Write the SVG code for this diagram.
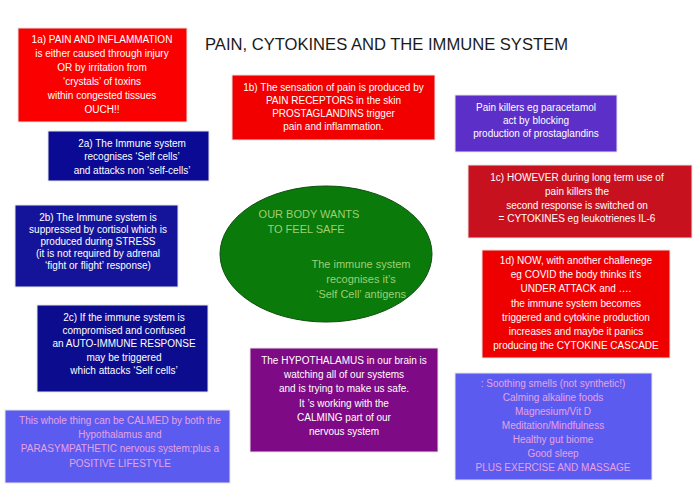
<svg xmlns="http://www.w3.org/2000/svg" width="700" height="495" viewBox="0 0 700 495">
<style>
text{font-family:"Liberation Sans",Arial,sans-serif;font-size:10px;text-anchor:middle;fill:#ffffff}
.title{font-size:17px;fill:#1a1a1a}
.box{stroke:#e6e6e6;stroke-width:1}
.green{fill:#9fcf72;font-size:11px}
.pink{fill:#e6a2e6}
</style>
<rect width="700" height="495" fill="#ffffff"/>
<text class="title" x="386.5" y="50" textLength="363" lengthAdjust="spacingAndGlyphs">PAIN, CYTOKINES AND THE IMMUNE SYSTEM</text>

<g id="n1a">
<rect class="box" x="18" y="28" width="169" height="94" fill="#fa0000"/>
<text x="102" y="43">1a) PAIN AND INFLAMMATION</text>
<text x="102" y="57">is either caused through injury</text>
<text x="102" y="71">OR by irritation from</text>
<text x="102" y="85">‘crystals’ of toxins</text>
<text x="102" y="99">within congested tissues</text>
<text x="102" y="113">OUCH!!</text>
</g>

<g id="n1b">
<rect class="box" x="232" y="75" width="203" height="65" fill="#f20000"/>
<text x="333.5" y="91">1b) The sensation of pain is produced by</text>
<text x="333.5" y="104">PAIN RECEPTORS in the skin</text>
<text x="333.5" y="117">PROSTAGLANDINS trigger</text>
<text x="333.5" y="130">pain and inflammation.</text>
</g>

<g id="npk">
<rect class="box" x="455" y="95" width="162" height="57" fill="#5c2fc9"/>
<text x="536" y="111">Pain killers eg paracetamol</text>
<text x="536" y="124">act by blocking</text>
<text x="536" y="137">production of prostaglandins</text>
</g>

<g id="n2a">
<rect class="box" x="48" y="131" width="161" height="50" fill="#0a0a94"/>
<text x="132" y="147">2a) The Immune system</text>
<text x="132" y="160">recognises ‘Self cells’</text>
<text x="132" y="174">and attacks non ‘self-cells’</text>
</g>

<g id="n2b">
<rect class="box" x="15" y="205" width="163" height="82" fill="#14149a"/>
<text x="98" y="221">2b) The Immune system is</text>
<text x="98" y="233">suppressed by cortisol which is</text>
<text x="98" y="245">produced during STRESS</text>
<text x="98" y="257">(it is not required by adrenal</text>
<text x="98" y="269">‘fight or flight’ response)</text>
</g>

<g id="n1c">
<rect class="box" x="468" y="165" width="224" height="73" fill="#c8111f"/>
<text x="577" y="181">1c) HOWEVER during long term use of</text>
<text x="577" y="195">pain killers the</text>
<text x="577" y="209">second response is switched on</text>
<text x="577" y="222">= CYTOKINES eg leukotrienes IL-6</text>
</g>

<g id="nbody">
<ellipse cx="326" cy="254" rx="106" ry="68" fill="#0a7a0a" stroke="#0d4f0d" stroke-width="1"/>
<text class="green" x="309" y="218">OUR BODY WANTS</text>
<text class="green" x="306" y="233">TO FEEL SAFE</text>
<text class="green" x="361" y="268">The immune system</text>
<text class="green" x="361" y="283">recognises it’s</text>
<text class="green" x="361" y="298">‘Self Cell’ antigens</text>
</g>

<g id="n1d">
<rect class="box" x="482" y="250" width="188" height="108" fill="#ee0000"/>
<text x="576" y="264">1d) NOW, with another challenege</text>
<text x="576" y="278">eg COVID  the body thinks it’s</text>
<text x="576" y="292">UNDER ATTACK and ….</text>
<text x="576" y="307">the immune system becomes</text>
<text x="576" y="321">triggered and cytokine production</text>
<text x="576" y="335">increases  and maybe it panics</text>
<text x="576" y="349">producing the CYTOKINE CASCADE</text>
</g>

<g id="n2c">
<rect class="box" x="37" y="305" width="171" height="87" fill="#0c0c8e"/>
<text x="124" y="321">2c) If the immune system is</text>
<text x="124" y="334">compromised and confused</text>
<text x="124" y="347">an AUTO-IMMUNE RESPONSE</text>
<text x="124" y="361">may be triggered</text>
<text x="124" y="374">which attacks ‘Self cells’</text>
</g>

<g id="nhypo">
<rect class="box" x="250" y="348" width="188" height="104" fill="#7f0a85"/>
<text x="344" y="364">The HYPOTHALAMUS in our brain is</text>
<text x="344" y="378">watching all of our systems</text>
<text x="344" y="392">and is trying to make us safe.</text>
<text x="344" y="407">It ’s working with the</text>
<text x="344" y="421">CALMING part of our</text>
<text x="344" y="435">nervous system</text>
</g>

<g id="ncalm">
<rect class="box" x="5" y="410" width="225" height="73" fill="#5b5bf0"/>
<text class="pink" x="120" y="424">This whole thing can be CALMED by both the</text>
<text class="pink" x="120" y="438">Hypothalamus and</text>
<text class="pink" x="120" y="452">PARASYMPATHETIC nervous system:plus a</text>
<text class="pink" x="120" y="467">POSITIVE LIFESTYLE</text>
</g>

<g id="nlife">
<rect class="box" x="455" y="373" width="197" height="107" fill="#5b5bf0"/>
<text class="pink" x="553" y="387">: Soothing smells (not synthetic!)</text>
<text class="pink" x="553" y="401">Calming alkaline foods</text>
<text class="pink" x="553" y="415">Magnesium/Vit D</text>
<text class="pink" x="553" y="429">Meditation/Mindfulness</text>
<text class="pink" x="553" y="443">Healthy gut biome</text>
<text class="pink" x="553" y="457">Good sleep</text>
<text class="pink" x="553" y="471">PLUS EXERCISE AND MASSAGE</text>
</g>

<g id="connectors"></g>
</svg>
